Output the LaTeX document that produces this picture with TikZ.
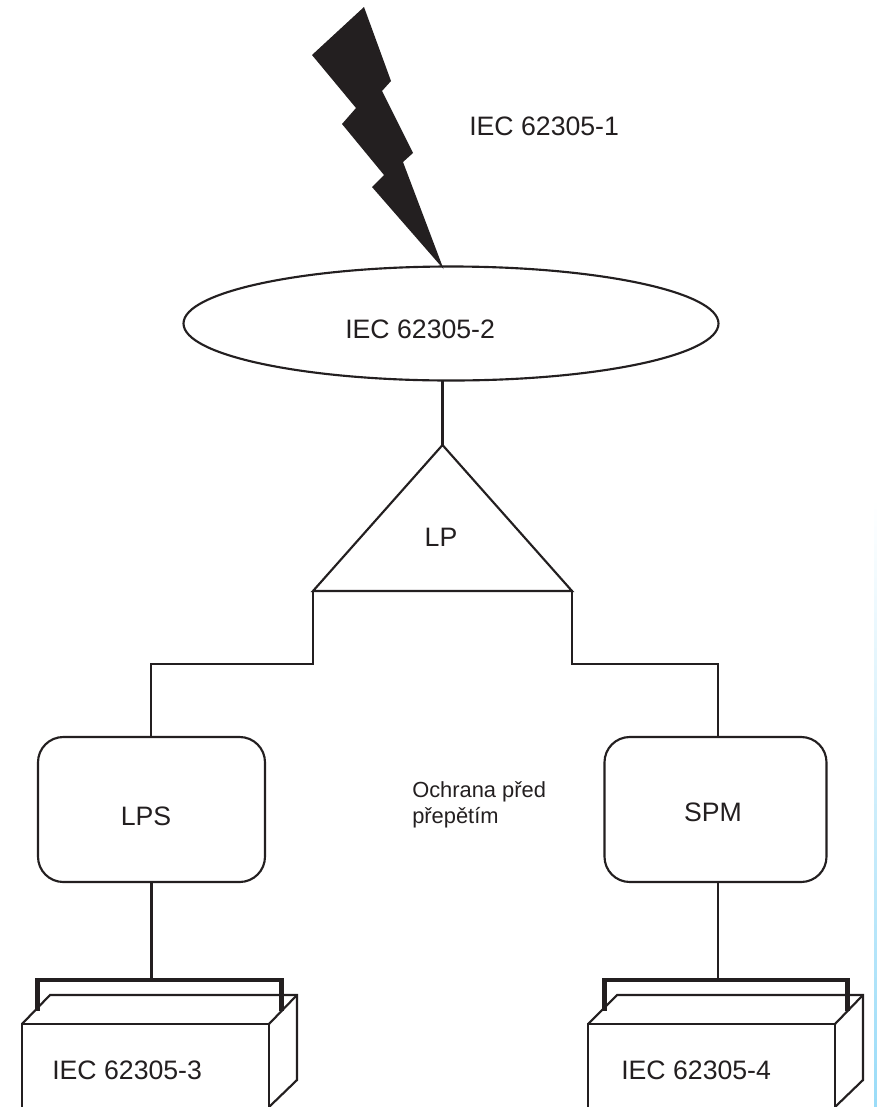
\documentclass[tikz,border=0pt]{standalone}
\usepackage{fontspec}
\setmainfont{Liberation Sans}
\usetikzlibrary{shapes.geometric}
\definecolor{ink}{HTML}{231F20}
\definecolor{strip}{HTML}{9ADCF8}
\tikzset{
  x=0.75pt,y=-0.75pt,
  ln/.style={draw=ink,line width=1.6pt,line join=miter},
  lbl/.style={text=ink,font=\fontsize{20}{24}\selectfont,inner sep=0pt,anchor=west},
  smalllbl/.style={text=ink,font=\fontsize{16.4}{19.5}\selectfont,inner sep=0pt,align=left,anchor=north west},
  rbox/.style={ln,rounded corners=19pt,inner sep=0pt,minimum height=108.75pt},
  brk/.style={draw=ink,line width=3.4pt,line join=miter},
}
\begin{document}
\begin{tikzpicture}
\useasboundingbox (0,0) rectangle (877,1107);
\fill[white] (0,0) rectangle (877,1107);
\shade[top color=white,bottom color=strip] (874,500) rectangle (877,1107);
% bolt
\fill[ink] (364,7)--(391,81)--(382,91)--(413,153)--(403,162)--(443.5,269)--(372,187)--(384,175)--(342,124)--(356,108)--(312,55)--cycle;
\node[lbl] (t1) at (469,126) {IEC 62305-1};
% ellipse
\node[ellipse,ln,minimum width=401.25pt,minimum height=85.5pt,inner sep=0pt] (sys) at (451,323.5) {};
\node[lbl] (t2) at (345,329) {IEC 62305-2};
% triangle
\coordinate (apex) at (442.5,445);
\coordinate (bl) at (313,591);
\coordinate (br) at (572,591);
\draw[ln] (apex)--(br)--(bl)--cycle;
\node[lbl,anchor=center] (lp) at (441,537) {LP};
\coordinate (ellb) at (442.5,380);
\draw[ln] (ellb)--(apex);
% boxes
\node[rbox,minimum width=170.25pt] (lps) at (151.5,809.5) {};
\node[lbl,anchor=center] (lpst) at (146,816) {LPS};
\node[rbox,minimum width=166.5pt] (spm) at (715.5,809.5) {};
\node[lbl,anchor=center] (spmt) at (713,812) {SPM};
\coordinate (a2) at (718,737);
\draw[ln] (bl)--(313,664)--(151,664)--(151,737);
\draw[ln] (br)--(572,664)--(718,664)--(a2);
\node[smalllbl] (mid) at (412,781) {Ochrana před\\přepětím};
% left book
\coordinate (s1b) at (151.5,978);
\draw[ln] (lps.south)--(s1b);
\draw[ln] (22,1107)--(22,1024)--(269,1024)--(269,1107);
\draw[ln] (22,1024)--(50,995)--(297,995)--(297,1080)--(269,1107);
\draw[ln] (269,1024)--(297,995);
\draw[brk] (37.5,1011)--(37.5,980)--(281.5,980)--(281.5,1011);
\node[lbl] (t3) at (52,1070) {IEC 62305-3};
% right book
\coordinate (s2) at (718,882); \coordinate (s2b) at (718,978);
\draw[ln] (s2)--(s2b);
\draw[ln] (588,1107)--(588,1024)--(835,1024)--(835,1107);
\draw[ln] (588,1024)--(617,995)--(863,995)--(863,1080)--(835,1107);
\draw[ln] (835,1024)--(863,995);
\draw[brk] (604.5,1011)--(604.5,980)--(847.5,980)--(847.5,1011);
\node[lbl] (t4) at (621,1070) {IEC 62305-4};
\end{tikzpicture}
\end{document}
